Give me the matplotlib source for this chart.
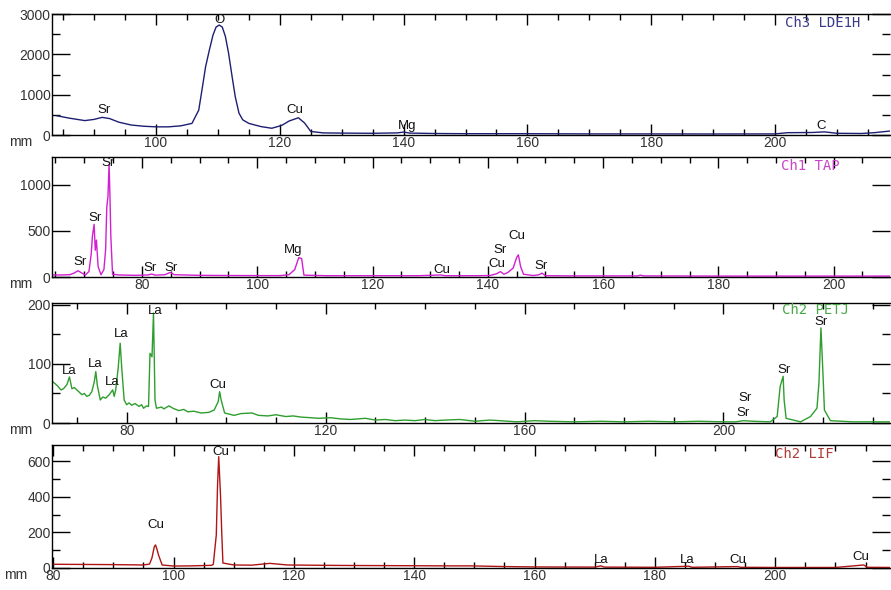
import matplotlib.pyplot as plt
from matplotlib.ticker import MultipleLocator

plt.rcParams['font.family'] = ['Liberation Sans', 'DejaVu Sans']

# Ch3 LDE1H spectrum (mm, counts)
lde_x = [84, 86, 88.5, 90, 91.3, 92.5, 94, 96, 98, 100, 102, 104, 105.8, 106.9, 107.4,
         108, 108.6, 109.2, 109.7, 110.2, 110.7, 111.2, 111.7, 112.3, 112.8, 113.4, 114,
         115, 117, 118.7, 120.3, 121.5, 123, 124, 125, 127, 130, 135, 139, 140, 141,
         145, 150, 160, 170, 180, 190, 200, 202, 206, 208, 210, 214, 216, 218.5]
lde_y = [480, 420, 360, 390, 440, 410, 320, 250, 220, 205, 205, 230, 290, 620, 1100,
         1690, 2100, 2480, 2680, 2730, 2680, 2450, 2050, 1440, 950, 545, 380,
         290, 210, 170, 240, 350, 430, 300, 90, 55, 50, 45, 55, 75, 50,
         40, 35, 35, 30, 30, 28, 30, 60, 65, 80, 45, 40, 60, 100]
lde_labels = [("Sr", 91.6, 620), ("O", 110.2, 2850), ("Cu", 122.4, 620),
              ("Mg", 140.5, 223), ("C", 207.4, 223)]

# Ch1 TAP spectrum
tap_x = [64.4, 66, 67.5, 68.3, 68.9, 69.5, 70.2, 70.8, 71.2, 71.4, 71.7, 71.9, 72.1, 72.4,
         72.9, 73.4, 73.7, 73.9, 74.1, 74.3, 74.45, 74.6, 74.9, 76, 79, 81, 81.7, 82.3,
         84, 84.9, 85.6, 90, 95, 100, 104, 105.5, 106.5, 107.2, 107.7, 108.1, 112, 120,
         128, 131.8, 132.6, 138, 140.4, 141.5, 142.2, 142.8, 143.5, 144.4, 145, 145.3,
         145.7, 146.2, 147.9, 148.9, 149.4, 150, 155, 166, 166.5, 167, 180, 195, 209.7]
tap_y = [22, 22, 25, 45, 68, 45, 22, 60, 250, 440, 570, 290, 400, 110,
         25, 80, 300, 760, 870, 1220, 870, 440, 30, 22, 18, 22, 32, 20,
         25, 50, 25, 18, 16, 15, 15, 25, 80, 210, 200, 20, 14, 14,
         14, 22, 14, 14, 16, 35, 58, 30, 50, 97, 210, 240,
         110, 30, 16, 25, 42, 14, 12, 12, 20, 12, 10, 10, 10]
tap_labels = [("Sr", 69.2, 163), ("Sr", 71.8, 640), ("Sr", 74.1, 1240),
              ("Sr", 81.4, 98), ("Sr", 85.0, 98), ("Mg", 106.2, 293),
              ("Cu", 132.1, 76), ("Cu", 141.6, 141), ("Sr", 142.2, 293),
              ("Cu", 145.1, 446), ("Sr", 149.3, 120)]

# Ch2 PETJ spectrum
pet_x = [65.1, 65.7, 66.2, 66.8, 67.3, 68, 68.5, 69, 69.5, 70, 70.5, 71, 71.5, 72, 72.5,
         73, 73.5, 73.8, 74.1, 74.7, 75.2, 75.8, 76.5, 77.2, 77.5, 77.8, 78.3, 78.7, 79,
         79.5, 80, 80.5, 81, 81.7, 82.5, 83, 83.4, 84, 84.4, 84.7, 85.1, 85.4, 85.7, 86,
         87, 87.5, 88.5, 89.3, 90.5, 91.5, 92.3, 93.5, 95, 96.5, 97.6, 98.4, 98.7, 99,
         99.7, 101.6, 103, 105.2, 106.5, 108.4, 110, 112, 113.5, 115.1, 117, 118.6, 121,
         123, 125, 128, 130, 132, 134, 136, 138, 140, 142, 144, 147, 150, 153, 155,
         158.5, 162, 165, 170, 175.3, 180, 185, 190, 195, 200, 202.5, 204, 206, 209.4,
         210.8, 211.4, 212, 212.2, 212.6, 215.5, 217.5, 218.8, 219.2, 219.6, 220, 220.3,
         221.5, 226, 233.4]
pet_y = [70, 66, 62, 56, 58, 65, 78, 58, 60, 56, 52, 48, 50, 45, 47,
         53, 70, 87, 64, 39, 44, 42, 48, 56, 45, 56, 93, 135, 95,
         39, 31, 34, 30, 33, 28, 31, 25, 29, 28, 118, 112, 186, 39, 25,
         27, 24, 29, 25, 21, 23, 19, 20, 17, 18, 22, 36, 53, 39,
         17, 13, 16, 17, 13, 12, 14, 11, 12, 10, 9, 8, 9,
         7, 6, 8, 5, 6, 4, 5, 4, 6, 4, 5, 6, 3, 5, 4,
         2, 4, 3, 2, 3, 2, 3, 2, 3, 2, 2, 4, 3, 2,
         11, 62, 79, 39, 8, 2, 11, 25, 68, 161, 85, 22,
         4, 2, 2]
pet_labels = [("La", 68.4, 88), ("La", 73.7, 100), ("La", 77.1, 69), ("La", 78.9, 151),
              ("La", 85.7, 190), ("Cu", 98.4, 64), ("Sr", 204.4, 42), ("Sr", 204.0, 17),
              ("Sr", 212.1, 90), ("Sr", 219.7, 171)]

# Ch2 LIF spectrum
lif_x = [79.8, 85, 90, 95, 96, 96.4, 96.8, 97, 97.2, 97.5, 98.1, 100, 103, 106.3, 106.6,
         107.1, 107.3, 107.5, 107.8, 108, 108.2, 110, 113, 116, 118.9, 125, 130, 138.2,
         145, 149.3, 155, 160, 170, 171, 171.6, 180, 185.6, 186.2, 193.7, 194.3, 200,
         210, 214.7, 215.3, 219]
lif_y = [21, 20, 19, 17, 22, 56, 120, 130, 110, 73, 17, 11, 12, 15, 20,
         186, 458, 627, 411, 204, 28, 17, 16, 26, 17, 15, 14, 13,
         12, 12, 8, 6, 5, 12, 5, 4, 10, 4, 8, 4, 3,
         3, 17, 4, 3]
lif_labels = [("Cu", 97.1, 242), ("Cu", 107.8, 653), ("La", 171.0, 45),
              ("La", 185.3, 45), ("Cu", 193.7, 45), ("Cu", 214.2, 62)]

panels = [
    dict(x=lde_x, y=lde_y, labels=lde_labels, color="#1e1e72", title="Ch3 LDE1H",
         tcolor="#3a3a8c", xlim=(83.2, 218.5), ylim=(0, 3000), xmaj=20, xmin=5,
         ymaj=1000, ymin=500, pos=[0.0584, 0.771, 0.94, 0.205], tx=0.965, ty=0.925,
         mmx=-0.037),
    dict(x=tap_x, y=tap_y, labels=tap_labels, color="#d21fd2", title="Ch1 TAP",
         tcolor="#c845c8", xlim=(64.4, 209.7), ylim=(0, 1300), xmaj=20, xmin=5,
         ymaj=500, ymin=None, pos=[0.0584, 0.5305, 0.94, 0.2034], tx=0.94, ty=0.925,
         mmx=-0.037),
    dict(x=pet_x, y=pet_y, labels=pet_labels, color="#2e9e2e", title="Ch2 PETJ",
         tcolor="#48a848", xlim=(65.0, 233.4), ylim=(0, 203), xmaj=40, xmin=10,
         ymaj=100, ymin=50, pos=[0.0584, 0.283, 0.94, 0.2034], tx=0.951, ty=0.94,
         mmx=-0.037),
    dict(x=lif_x, y=lif_y, labels=lif_labels, color="#b01414", title="Ch2 LIF",
         tcolor="#b03a3a", xlim=(79.8, 219.0), ylim=(0, 693), xmaj=20, xmin=5,
         ymaj=200, ymin=100, pos=[0.0584, 0.0373, 0.94, 0.2085], tx=0.933, ty=0.927,
         mmx=-0.044),
]

fig = plt.figure(figsize=(8.91, 5.90), dpi=100)

for p in panels:
    ax = fig.add_axes(p["pos"])
    ax.plot(p["x"], p["y"], color=p["color"], linewidth=1.0)
    ax.set_xlim(*p["xlim"])
    ax.set_ylim(*p["ylim"])

    # ticks: inward on all four sides
    ax.xaxis.set_major_locator(MultipleLocator(p["xmaj"]))
    ax.xaxis.set_minor_locator(MultipleLocator(p["xmin"]))
    ax.yaxis.set_major_locator(MultipleLocator(p["ymaj"]))
    if p["ymin"]:
        ax.yaxis.set_minor_locator(MultipleLocator(p["ymin"]))
    ax.tick_params(axis="x", which="both", direction="in", top=True, bottom=True,
                   labelsize=10, labelcolor="#333333", pad=1, width=1)
    ax.tick_params(axis="x", which="major", length=8)
    ax.tick_params(axis="x", which="minor", length=4)
    ax.tick_params(axis="y", which="both", direction="in", left=True, right=True,
                   labelsize=10, labelcolor="#333333", pad=1, width=1)
    ax.tick_params(axis="y", which="major", length=13)
    ax.tick_params(axis="y", which="minor", length=6)
    for s in ax.spines.values():
        s.set_linewidth(1.0)
    ax.spines["right"].set_visible(False)

    # element labels on peaks
    for name, lx, ly in p["labels"]:
        ax.text(lx, ly, name, ha="center", va="center", fontsize=9.5, color="#111111")

    ax.text(p["tx"], p["ty"], p["title"], transform=ax.transAxes, ha="right", va="center",
            fontsize=10, color=p["tcolor"], family="DejaVu Sans Mono")
    ax.text(p["mmx"], -0.06, "mm", transform=ax.transAxes, ha="center", va="center",
            fontsize=10, color="#333333")

fig.savefig("out.png", dpi=100, facecolor="white")
